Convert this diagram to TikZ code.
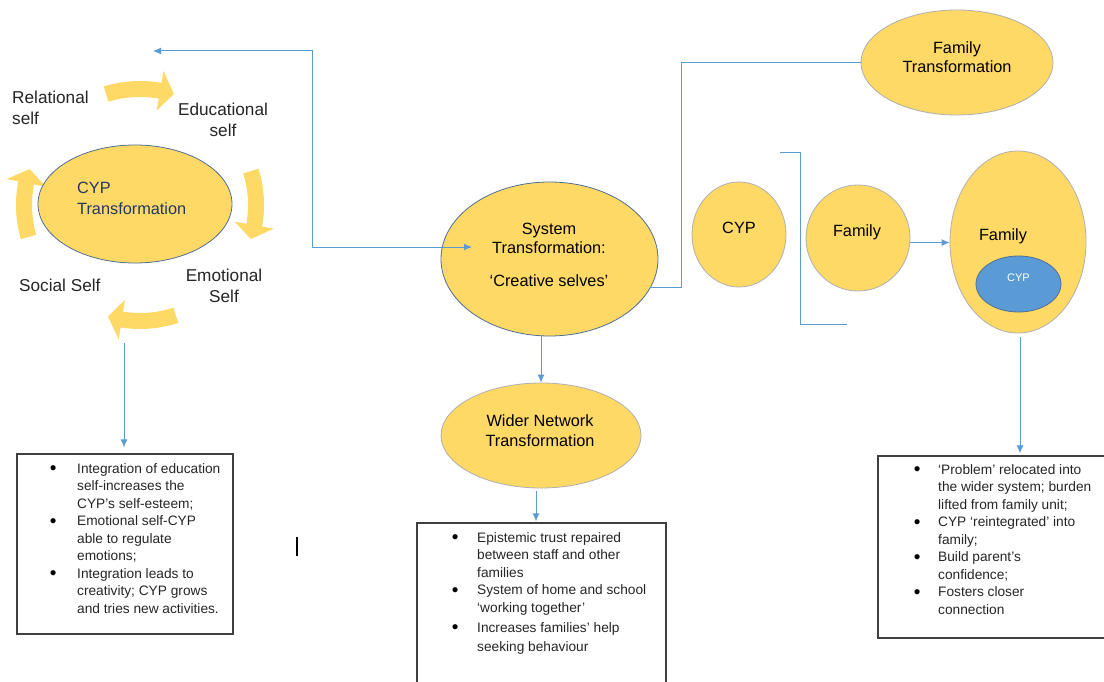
\documentclass[tikz,border=0pt]{standalone}
\usepackage{fontspec}
\setmainfont{Liberation Sans}
\usetikzlibrary{arrows.meta,shapes.geometric}

\definecolor{gold}{RGB}{255,217,102}
\definecolor{linkblue}{RGB}{91,155,213}
\definecolor{navy}{RGB}{32,56,100}
\definecolor{rimblue}{RGB}{80,110,145}
\definecolor{rimgrey}{RGB}{175,175,175}
\definecolor{ink}{RGB}{38,38,38}
\definecolor{boxgrey}{RGB}{64,64,64}

% bullet set in a fixed-width slot
\newcommand\bul[1]{\makebox[#1][l]{\hspace{-1pt}\raisebox{-1.9pt}{\color{black}\fontsize{19}{19}\selectfont\textbullet}}}

\begin{document}
\begin{tikzpicture}[x=1pt,y=1pt,
  bubble/.style={ellipse, fill=gold, draw=rimgrey, line width=0.8pt, inner sep=0pt},
  bubtext/.style={font=\fontsize{16.3}{19.5}\selectfont, text=black, align=center, inner sep=0pt},
  selflabel/.style={font=\fontsize{17.2}{21}\selectfont, text=ink, inner sep=0pt},
  listbox/.style={draw=boxgrey, line width=1.2pt, inner sep=0pt},
  listtext/.style={font=\fontsize{13.7}{17.5}\selectfont, text=ink, inner sep=0pt, anchor=base west},
  connector/.style={draw=linkblue, line width=1pt},
  pointer/.style={-{Latex[length=8pt,width=7pt]}},
  twoway/.style={{Latex[length=8pt,width=7pt]}-{Latex[length=8pt,width=7pt]}}
]
\useasboundingbox (0,0) rectangle (1104,-682);
\clip (0,0) rectangle (1104,-682);
\fill[white] (0,0) rectangle (1104,-682);

% ---------- CYP transformation cycle ----------
\begin{scope}[shift={(140,-205)}]
  \foreach \s in {107,17,-72,196}{
    \pgfmathsetmacro\b{\s-27}
    \pgfmathsetmacro\t{\s-34}
    \fill[gold] (\s:124) arc[start angle=\s, end angle=\b, radius=124]
      -- (\b:136) -- (\t:116) -- (\b:96) -- (\b:108)
      arc[start angle=\b, end angle=\s, radius=108] -- cycle;
  }
\end{scope}

\node[bubble, draw=rimblue, minimum width=194, minimum height=118] (cypT) at (135,-204) {};
\node[bubtext, text=navy, align=left, anchor=west] (cypTtxt) at (77,-198.5) {CYP\\[1.5pt]Transformation};

\node[selflabel, align=left, anchor=west] (relself) at (12,-107.5) {Relational\\self};
\node[selflabel, align=center] (eduself) at (223,-120) {Educational\\self};
\node[selflabel, align=center] (emoself) at (224,-286) {Emotional\\Self};
\node[selflabel, anchor=west] (socself) at (19,-285) {Social Self};

% ---------- system transformation ----------
\node[bubble, draw=rimblue, minimum width=217, minimum height=154] (sys) at (549.5,-259) {};
\node[bubtext] (systxt) at (549,-254.5) {System\\Transformation:\\[13pt]‘Creative selves’};

\coordinate (loopL) at (153,-51);
\coordinate (loopR) at (472,-247);
\draw[connector, twoway] (loopL) -| (312,-247) -- (loopR);

% ---------- family transformation ----------
\node[bubble, minimum width=192, minimum height=105] (famT) at (957,-62.5) {};
\node[bubtext] (famTtxt) at (957,-57) {Family\\Transformation};
\draw[connector] (sys.-16) -- ++(31,0) |- (famT.west);

\node[bubble, minimum width=94, minimum height=105] (cyp) at (739,-234.5) {};
\node[bubtext] (cyptxt) at (739,-228) {CYP};

\draw[connector] (780,-153) -- (800,-153) -- (800,-324) -- (847,-324);

\node[bubble, minimum width=104, minimum height=106] (fam) at (858,-238) {};
\node[bubtext] (famtxt) at (857,-232) {Family};

\node[bubble, minimum width=136, minimum height=182] (bigfam) at (1018,-242) {};
\node[bubtext] (bigfamtxt) at (1003,-236) {Family};
\node[ellipse, fill=linkblue, draw=rimblue, line width=0.8pt, inner sep=0pt,
      minimum width=85, minimum height=56] (incyp) at (1018.5,-284) {};
\node[font=\fontsize{11}{13}\selectfont, text=white, inner sep=0pt] (incyptxt) at (1018.5,-278) {CYP};

\draw[connector, pointer] (fam.-5) -- (bigfam.west |- fam.-5);

% ---------- wider network ----------
\node[bubble, minimum width=200, minimum height=105] (wn) at (541,-435.5) {};
\node[bubtext] (wntxt) at (540,-430.5) {Wider Network\\Transformation};
\draw[connector, pointer] (sys.south -| wn.north) -- (wn.north);

% ---------- outcome boxes ----------
\node[listbox, minimum width=216, minimum height=180] (lbox) at (125,-544) {};
\node[listbox, minimum width=249, minimum height=190] (mbox) at (541.5,-618) {};
\node[listbox, minimum width=242, minimum height=182] (rbox) at (999,-547) {};

\coordinate (cycleOut) at (124,-343);
\draw[connector, pointer] (cycleOut) -- ([yshift=6pt]lbox.north -| cycleOut);
\draw[connector, pointer] ([shift={(-5,-3)}]wn.south) -- ([shift={(-5,1)}]wn.south |- mbox.north);
\draw[connector, pointer] ([shift={(2,-4)}]bigfam.south) -- ([shift={(2,2)}]bigfam.south |- rbox.north);

\node[listtext] (ltxt) at (50.6,-473) {\begin{tabular}[t]{@{}l@{}l@{}}
\bul{26.4pt} & Integration of education\\
 & self-increases the\\
 & CYP’s self-esteem;\\
\bul{26.4pt} & Emotional self-CYP\\
 & able to regulate\\
 & emotions;\\
\bul{26.4pt} & Integration leads to\\
 & creativity; CYP grows\\
 & and tries new activities.
\end{tabular}};

\node[listtext] (mtxt) at (452.6,-542) {\begin{tabular}[t]{@{}l@{}l@{}}
\bul{24.4pt} & Epistemic trust repaired\\
 & between staff and other\\
 & families\\
\bul{24.4pt} & System of home and school\\
 & ‘working together’\\[2.5pt]
\bul{24.4pt} & Increases families’ help\\[1.5pt]
 & seeking behaviour
\end{tabular}};

\node[listtext] (rtxt) at (914.6,-474) {\begin{tabular}[t]{@{}l@{}l@{}}
\bul{23.4pt} & ‘Problem’ relocated into\\
 & the wider system; burden\\
 & lifted from family unit;\\
\bul{23.4pt} & CYP ‘reintegrated’ into\\
 & family;\\
\bul{23.4pt} & Build parent’s\\
 & confidence;\\
\bul{23.4pt} & Fosters closer\\
 & connection
\end{tabular}};

% text cursor mark
\draw[black, line width=1.3pt] (297,-537) -- (297,-556);
\end{tikzpicture}
\end{document}
